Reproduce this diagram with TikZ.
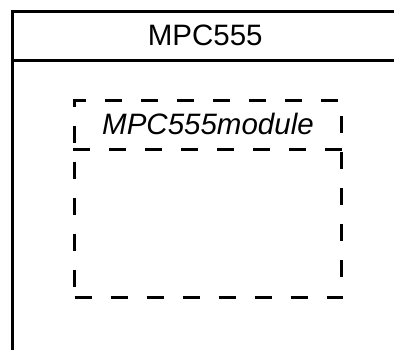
\documentclass[tikz,border=0pt]{standalone}
\usepackage{fontspec}
\setmainfont{Liberation Sans}
\usetikzlibrary{positioning}

\begin{document}
\begin{tikzpicture}[
    x=1pt,y=1pt,
    node distance=0pt,
    lbl/.style={inner sep=0pt,minimum height=50pt,font=\fontsize{29.5}{35}\selectfont},
    chipbox/.style={draw,line width=2.5pt,inner sep=0pt},
    modbox/.style={draw,line width=3pt,dash pattern=on 17pt off 19pt,inner sep=0pt},
    divider/.style={line width=2.5pt},
    moddivider/.style={line width=3pt,dash pattern=on 17pt off 19pt},
]
\useasboundingbox (0,0) rectangle (394,-349);

% ---- outer component (runs off the right and bottom edge) ----
\node[chipbox,minimum width=386pt,minimum height=410pt,anchor=north west] (chip) at (11,-10) {};
\node[lbl,anchor=north] (chiptitle) at (chip.north) {MPC555};
\draw[divider] (chip.west |- chiptitle.south) -- (chip.east |- chiptitle.south);

% ---- inner dashed module ----
\node[modbox,minimum width=267pt,minimum height=197pt,anchor=north west] (mod) at (73,-99) {};
\node[lbl,anchor=north,font=\fontsize{29.5}{35}\selectfont\itshape] (modtitle) at (mod.north) {MPC555module};
\draw[moddivider] (mod.west |- modtitle.south) -- (mod.east |- modtitle.south);

\end{tikzpicture}
\end{document}
